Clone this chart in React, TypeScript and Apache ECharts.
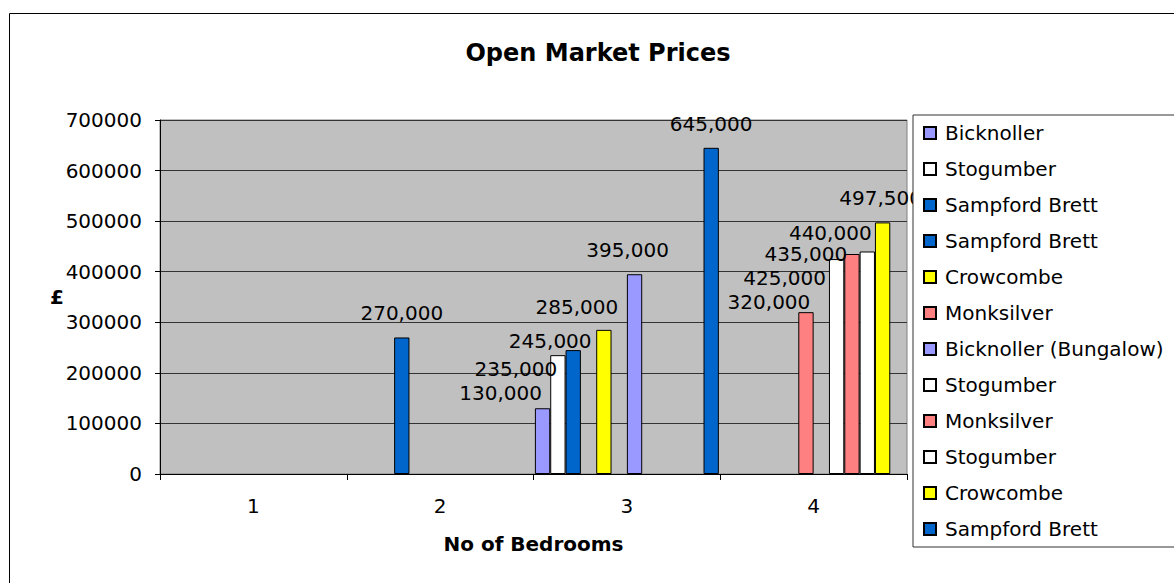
import React, { useEffect, useRef } from "react";
import * as echarts from "echarts";

const categories = ["1", "2", "3", "4"];
const seriesNames = [
  "Bicknoller",
  "Stogumber",
  "Sampford Brett",
  "Sampford Brett",
  "Crowcombe",
  "Monksilver",
  "Bicknoller (Bungalow)",
  "Stogumber",
  "Monksilver",
  "Stogumber",
  "Crowcombe",
  "Sampford Brett",
];
const bicknoller = [null, null, 130000, null];
const stogumberA = [null, null, 235000, null];
const sampfordA = [null, null, 245000, null];
const sampfordB = [null, 270000, null, null];
const crowcombeA = [null, null, 285000, null];
const monksilverA = [null, null, null, 320000];
const bicknollerBungalow = [null, null, 395000, null];
const stogumberB = [null, null, null, 425000];
const monksilverB = [null, null, null, 435000];
const stogumberC = [null, null, null, 440000];
const crowcombeB = [null, null, null, 497500];
const sampfordC = [null, null, 645000, null];
const seriesValues = [
  bicknoller, stogumberA, sampfordA, sampfordB, crowcombeA, monksilverA,
  bicknollerBungalow, stogumberB, monksilverB, stogumberC, crowcombeB, sampfordC,
];
const yTicks = { min: 0, max: 700000, interval: 100000 };

// styling
const colors = [
  "#9999FF", "#FFFFFF", "#0066CC", "#0066CC", "#FFFF00", "#FF8080",
  "#9999FF", "#FFFFFF", "#FF8080", "#FFFFFF", "#FFFF00", "#0066CC",
];
// manual label offsets [dx, dy] per series (Excel hand-placed labels)
const labelOffsets: [number, number][] = [
  [-42, 9], [-42, 38], [-23, 15], [0, 0], [-27, 1], [-37, 14],
  [-7, 0], [-52, 43], [-46, 24], [-37, 6], [-2, 0], [0, 0],
];

const FONT = "DejaVu Sans";
const fmt = (v: number) => String(v).replace(/\B(?=(\d{3})+(?!\d))/g, ",");

export default function App() {
  const ref = useRef<HTMLDivElement>(null);
  useEffect(() => {
    if (!ref.current) return;
    const chart = echarts.init(ref.current, null, { renderer: "svg" });
    const series = seriesValues.map((vals, i) => ({
      type: "bar",
      name: `${i}|${seriesNames[i]}`,
      data: vals,
      barGap: "0%",
      barCategoryGap: "1.5%",
      itemStyle: { color: colors[i], borderColor: "#000", borderWidth: 1 },
      label: {
        show: true,
        position: "top",
        distance: 14,
        offset: labelOffsets[i],
        fontFamily: FONT,
        fontSize: 20,
        color: "#000",
        formatter: (p: any) => fmt(p.value),
      },
    }));
    chart.setOption({
      animation: false,
      backgroundColor: "#fff",
      textStyle: { fontFamily: FONT },
      title: {
        text: "Open Market Prices",
        left: 593,
        textAlign: "center",
        top: 36,
        textStyle: { fontFamily: FONT, fontWeight: "bold", fontSize: 24, color: "#000" },
      },
      graphic: [
        {
          type: "rect",
          z: -10,
          silent: true,
          shape: { x: 9.5, y: 13.5, width: 1250, height: 650 },
          style: { fill: "none", stroke: "#000", lineWidth: 1 },
        },
      ],
      legend: {
        orient: "vertical",
        left: 913,
        top: 115,
        padding: [6, 40, 6, 10],
        itemWidth: 12,
        itemHeight: 12,
        itemGap: 12,
        backgroundColor: "#fff",
        borderColor: "#333",
        borderWidth: 1,
        icon: "rect",
        formatter: (n: string) => n.split("|")[1],
        textStyle: { fontFamily: FONT, fontSize: 20, color: "#000", lineHeight: 24, padding: [0, 0, 0, 4] },
        data: seriesValues.map((_, i) => `${i}|${seriesNames[i]}`),
      },
      grid: {
        left: 160,
        top: 120,
        right: 267,
        bottom: 109,
        show: true,
        backgroundColor: "#C0C0C0",
        borderColor: "#808080",
        borderWidth: 1,
      },
      xAxis: {
        type: "category",
        data: categories,
        name: "No of Bedrooms",
        nameLocation: "middle",
        nameGap: 60,
        nameMoveOverlap: false,
        nameTextStyle: { fontFamily: FONT, fontWeight: "bold", fontSize: 20, color: "#000" },
        axisLine: { lineStyle: { color: "#000", width: 1 } },
        axisTick: { show: true, length: 6, lineStyle: { color: "#000" } },
        axisLabel: { fontFamily: FONT, fontSize: 20, color: "#000", margin: 22 },
      },
      yAxis: {
        type: "value",
        min: yTicks.min,
        max: yTicks.max,
        interval: yTicks.interval,
        name: "£",
        nameLocation: "middle",
        nameRotate: 0,
        nameGap: 96,
        nameMoveOverlap: false,
        nameTextStyle: { fontFamily: FONT, fontWeight: "bold", fontSize: 20, color: "#000" },
        axisLine: { show: true, lineStyle: { color: "#000", width: 1 } },
        axisTick: { show: true, length: 5, lineStyle: { color: "#000" } },
        axisLabel: {
          fontFamily: FONT,
          fontSize: 20,
          color: "#000",
          margin: 18,
          formatter: (v: number) => String(v),
        },
        splitLine: { show: true, lineStyle: { color: "#333", width: 1 } },
      },
      series,
    });
    return () => chart.dispose();
  }, []);
  return (
    <div
      ref={ref}
      style={{ position: "fixed", left: 0, top: 0, width: 1174, height: 583 }}
    />
  );
}
